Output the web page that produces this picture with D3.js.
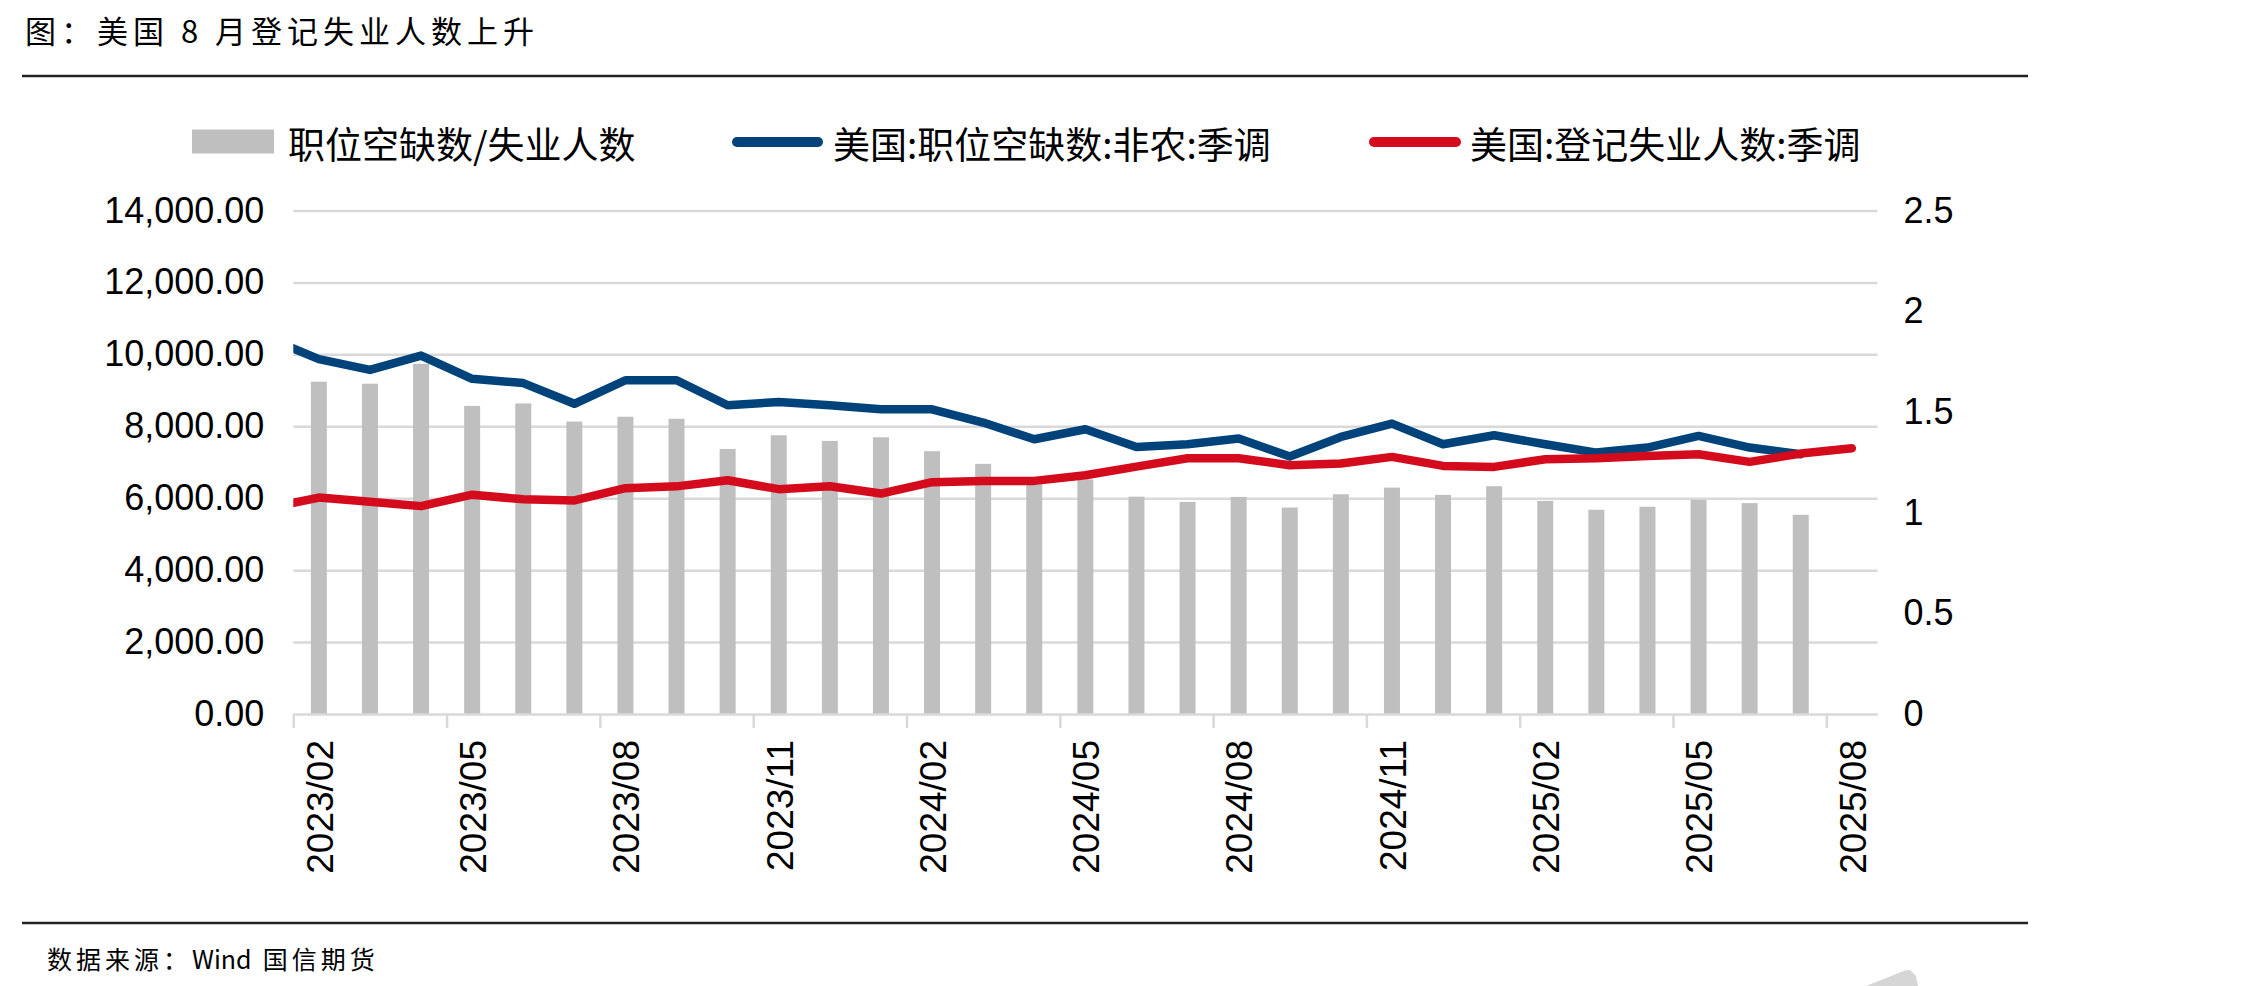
<!DOCTYPE html>
<html>
<head>
<meta charset="utf-8">
<script src="https://cdn.jsdelivr.net/npm/d3@7"></script>
<style>
  body { margin: 0; background: #fff; }
  text { font-family: "Liberation Sans", Arial, sans-serif; fill: #000; }
  .cjk { font-family: "Noto Sans CJK SC", sans-serif; }
</style>
</head>
<body>
<svg id="chart" width="2243" height="986"></svg>
<script>
// months on the axis (2023/01 is only there for the clipped start of the lines)
const months = ["2023/01","2023/02","2023/03","2023/04","2023/05","2023/06","2023/07","2023/08",
  "2023/09","2023/10","2023/11","2023/12","2024/01","2024/02","2024/03","2024/04","2024/05",
  "2024/06","2024/07","2024/08","2024/09","2024/10","2024/11","2024/12","2025/01","2025/02",
  "2025/03","2025/04","2025/05","2025/06","2025/07","2025/08"];
const xLabels = ["2023/02","2023/05","2023/08","2023/11","2024/02","2024/05",
  "2024/08","2024/11","2025/02","2025/05","2025/08"];

// 美国:职位空缺数:非农:季调 (千人), 2023/01 - 2025/07
const openings = [10460, 9866, 9568, 9965, 9320, 9201, 8626, 9280, 9280, 8584, 8676, 8584,
  8473, 8473, 8103, 7640, 7917, 7427, 7501, 7658, 7158, 7704, 8075, 7501, 7751, 7501,
  7269, 7408, 7732, 7408, 7223];
// 美国:登记失业人数:季调 (千人), 2023/01 - 2025/08
const unemployed = [5722, 6018, 5899, 5780, 6098, 5969, 5939, 6280, 6330, 6501, 6251, 6334,
  6130, 6445, 6482, 6482, 6639, 6880, 7112, 7112, 6917, 6964, 7149, 6899, 6871, 7084,
  7112, 7177, 7223, 7010, 7241, 7390];
// 职位空缺数/失业人数 (右轴), 2023/02 - 2025/07
const ratio = [1.650, 1.640, 1.739, 1.530, 1.542, 1.452, 1.476, 1.466, 1.316, 1.384, 1.356,
  1.374, 1.305, 1.242, 1.160, 1.165, 1.079, 1.053, 1.078, 1.025, 1.091, 1.124, 1.088, 1.131,
  1.058, 1.014, 1.029, 1.063, 1.047, 0.989];

const leftTicks = [0, 2000, 4000, 6000, 8000, 10000, 12000, 14000];
const rightTicks = [0, 0.5, 1, 1.5, 2, 2.5];
const legendNames = ["职位空缺数/失业人数", "美国:职位空缺数:非农:季调", "美国:登记失业人数:季调"];

const colors = { bar: "#bfbfbf", blue: "#00427a", red: "#d40b1d", grid: "#d9d9d9" };

const svg = d3.select("#chart");
svg.append("rect").attr("width", 2243).attr("height", 986).attr("fill", "#fff");

const L = 293.3, R = 1877.4, T = 210.5, B = 714;

const x = d3.scaleLinear().domain([0.5, months.length - 0.5]).range([L, R]);
const yL = d3.scaleLinear().domain([0, 14000]).range([B, T]);
const yR = d3.scaleLinear().domain([0, 2.5]).range([B, T]);
const step = x(1) - x(0);
const barW = step * 0.313;

// title + rules
svg.append("text").attr("class", "cjk")
  .attr("x", 25).attr("y", 29).attr("dominant-baseline", "central")
  .style("font-size", "31px").style("letter-spacing", "5px")
  .text("图：美国 8 月登记失业人数上升");
svg.append("line").attr("x1", 22).attr("x2", 2028).attr("y1", 76).attr("y2", 76)
  .attr("stroke", "#222").attr("stroke-width", 2.4);
svg.append("line").attr("x1", 22).attr("x2", 2028).attr("y1", 923).attr("y2", 923)
  .attr("stroke", "#222").attr("stroke-width", 2.4);
const src = svg.append("text").attr("class", "cjk")
  .attr("x", 47).attr("y", 958).attr("dominant-baseline", "central")
  .style("white-space", "pre")
  .style("font-size", "25px").style("letter-spacing", "4px");
src.append("tspan").text("数据来源：");
src.append("tspan").style("letter-spacing", "0px").text("Wind  ");
src.append("tspan").text("国信期货");
// faint corner of the watermark
svg.append("path").attr("d", "M1866,986 L1905,970.5 L1910,970 L1916,976 L1918,986 Z")
  .attr("fill", "#d6d6d6");

// gridlines
svg.append("g")
  .attr("transform", `translate(${L},0)`)
  .call(d3.axisLeft(yL).tickValues(leftTicks.slice(1)).tickSize(-(R - L)).tickFormat(""))
  .call(g => g.select(".domain").remove())
  .call(g => g.selectAll("line").attr("stroke", colors.grid).attr("stroke-width", 2.5));

// left axis labels
svg.append("g")
  .attr("transform", `translate(${L},0)`)
  .call(d3.axisLeft(yL).tickValues(leftTicks).tickSize(0).tickPadding(29)
    .tickFormat(d3.format(",.2f")))
  .call(g => g.select(".domain").remove())
  .call(g => g.selectAll("text").style("font-size", "36px")
    .style("font-family", '"Liberation Sans", Arial, sans-serif'));

// right axis labels
svg.append("g")
  .attr("transform", `translate(${R},0)`)
  .call(d3.axisRight(yR).tickValues(rightTicks).tickSize(0).tickPadding(26)
    .tickFormat(d => String(d)))
  .call(g => g.select(".domain").remove())
  .call(g => g.selectAll("text").style("font-size", "36px")
    .style("font-family", '"Liberation Sans", Arial, sans-serif'));

// bars (start at 2023/02 = index 1)
svg.append("g")
  .selectAll("rect")
  .data(ratio)
  .join("rect")
    .attr("x", (d, i) => x(i + 1) - barW / 2)
    .attr("y", d => yR(d))
    .attr("width", barW)
    .attr("height", d => B - yR(d))
    .attr("fill", colors.bar);

// x axis: ticks on month boundaries
const labelIdx = xLabels.map(m => months.indexOf(m));
svg.append("g")
  .attr("transform", `translate(0,${B})`)
  .call(d3.axisBottom(x).tickValues(labelIdx.map(i => i - 0.5)).tickSize(14)
    .tickSizeOuter(0).tickFormat(""))
  .call(g => g.select(".domain").attr("stroke", colors.grid).attr("stroke-width", 2.5))
  .call(g => g.selectAll(".tick line").attr("stroke", colors.grid).attr("stroke-width", 2.5));

// x labels, rotated, centred on their month
svg.append("g")
  .attr("transform", `translate(0,${B})`)
  .call(d3.axisBottom(x).tickValues(labelIdx).tickSize(0).tickFormat(i => months[i]))
  .call(g => g.select(".domain").remove())
  .call(g => g.selectAll("text")
    .attr("transform", "rotate(-90)")
    .attr("text-anchor", "end")
    .attr("x", -26).attr("y", 0).attr("dy", "0.36em")
    .style("font-size", "37px")
    .style("font-family", '"Liberation Sans", Arial, sans-serif'));

// lines, clipped to the plot area
svg.append("clipPath").attr("id", "plot")
  .append("rect").attr("x", L).attr("y", 0).attr("width", R - L + 20).attr("height", B + 10);

const line = d3.line()
  .defined(d => d != null)
  .x((d, i) => x(i))
  .y(d => yL(d));

const lines = svg.append("g").attr("clip-path", "url(#plot)");
lines.append("path").datum(openings)
  .attr("d", line).attr("fill", "none")
  .attr("stroke", colors.blue).attr("stroke-width", 8.5)
  .attr("stroke-linejoin", "round").attr("stroke-linecap", "round");
lines.append("path").datum(unemployed)
  .attr("d", line).attr("fill", "none")
  .attr("stroke", colors.red).attr("stroke-width", 8.5)
  .attr("stroke-linejoin", "round").attr("stroke-linecap", "round");

// legend
const lg = svg.append("g");
lg.append("rect").attr("x", 192).attr("y", 129.5).attr("width", 82).attr("height", 24)
  .attr("fill", colors.bar);
lg.append("line").attr("x1", 737).attr("x2", 818).attr("y1", 142).attr("y2", 142)
  .attr("stroke", colors.blue).attr("stroke-width", 10).attr("stroke-linecap", "round");
lg.append("line").attr("x1", 1374).attr("x2", 1456).attr("y1", 142).attr("y2", 142)
  .attr("stroke", colors.red).attr("stroke-width", 10).attr("stroke-linecap", "round");
lg.selectAll("text.leg")
  .data(legendNames)
  .join("text")
    .attr("class", "leg cjk")
    .attr("x", (d, i) => [288, 833, 1470][i])
    .attr("y", 143)
    .attr("dominant-baseline", "central")
    .style("font-size", "37px")
    .text(d => d);
</script>
</body>
</html>
